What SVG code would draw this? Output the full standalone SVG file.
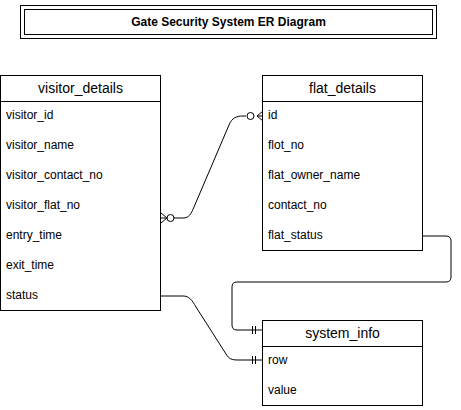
<svg xmlns="http://www.w3.org/2000/svg" width="461" height="410" viewBox="0 0 461 410">
<style>
.box{fill:#fff;stroke:#000;stroke-width:1}
.ln{fill:none;stroke:#000;stroke-width:1}
.hd{font-family:"Liberation Sans",Arial,sans-serif;font-size:14px;text-anchor:middle;fill:#000}
.rw{font-family:"Liberation Sans",Arial,sans-serif;font-size:12px;fill:#000}
.tt{font-family:"Liberation Sans",Arial,sans-serif;font-size:12px;font-weight:bold;text-anchor:middle;fill:#000}
.c{fill:#fff;stroke:#000;stroke-width:1}
</style>
<rect width="461" height="410" fill="#fff"/>
<g id="title">
<rect class="box" x="20.5" y="5.5" width="416" height="33"/>
<rect class="ln" x="24.5" y="9.5" width="408" height="25"/>
<text class="tt" x="228.5" y="26">Gate Security System ER Diagram</text>
</g>
<g id="connectors">
<path class="ln" d="M174,218 L183,218 C189,218 191,214 194,207 L229,125 C232,118 236,116 243,116 L246,116"/>
<path class="ln" d="M161,213 L167,218 L161,223 M161,218 L167,218"/>
<circle class="c" cx="170.5" cy="218" r="3.5"/>
<path class="ln" d="M263,111 L257,116 L263,121 M257,116 L263,116"/>
<circle class="c" cx="250.5" cy="116" r="3.5"/>
<path class="ln" d="M423,236 L446,236 Q451,236 451,241 L451,277 Q451,282 446,282 L237,282 Q232,282 232,287 L232,325 Q232,330 237,330 L263,330"/>
<path class="ln" d="M252.5,326 L252.5,334 M255.5,326 L255.5,334"/>
<path class="ln" d="M161,296 L183,296 C189,296 192,300 196,307 L226,354 C229,359 232,360 238,360 L263,360"/>
<path class="ln" d="M252.5,356 L252.5,364 M255.5,356 L255.5,364"/>
</g>
<g id="visitor_details">
<rect class="box" x="0.5" y="75.5" width="160" height="235"/>
<line class="ln" x1="0.5" y1="101.5" x2="160.5" y2="101.5"/>
<text class="hd" x="80.5" y="93">visitor_details</text>
<text class="rw" x="6" y="119">visitor_id</text>
<text class="rw" x="6" y="149">visitor_name</text>
<text class="rw" x="6" y="179">visitor_contact_no</text>
<text class="rw" x="6" y="209">visitor_flat_no</text>
<text class="rw" x="6" y="239">entry_time</text>
<text class="rw" x="6" y="269">exit_time</text>
<text class="rw" x="6" y="299">status</text>
</g>
<g id="flat_details">
<rect class="box" x="262.5" y="75.5" width="160" height="175"/>
<line class="ln" x1="262.5" y1="101.5" x2="422.5" y2="101.5"/>
<text class="hd" x="342.5" y="93">flat_details</text>
<text class="rw" x="268" y="119">id</text>
<text class="rw" x="268" y="149">flot_no</text>
<text class="rw" x="268" y="179">flat_owner_name</text>
<text class="rw" x="268" y="209">contact_no</text>
<text class="rw" x="268" y="239">flat_status</text>
</g>
<g id="system_info">
<rect class="box" x="262.5" y="320.5" width="160" height="85"/>
<line class="ln" x1="262.5" y1="346.5" x2="422.5" y2="346.5"/>
<text class="hd" x="342.5" y="338">system_info</text>
<text class="rw" x="268" y="364">row</text>
<text class="rw" x="268" y="394">value</text>
</g>
</svg>
